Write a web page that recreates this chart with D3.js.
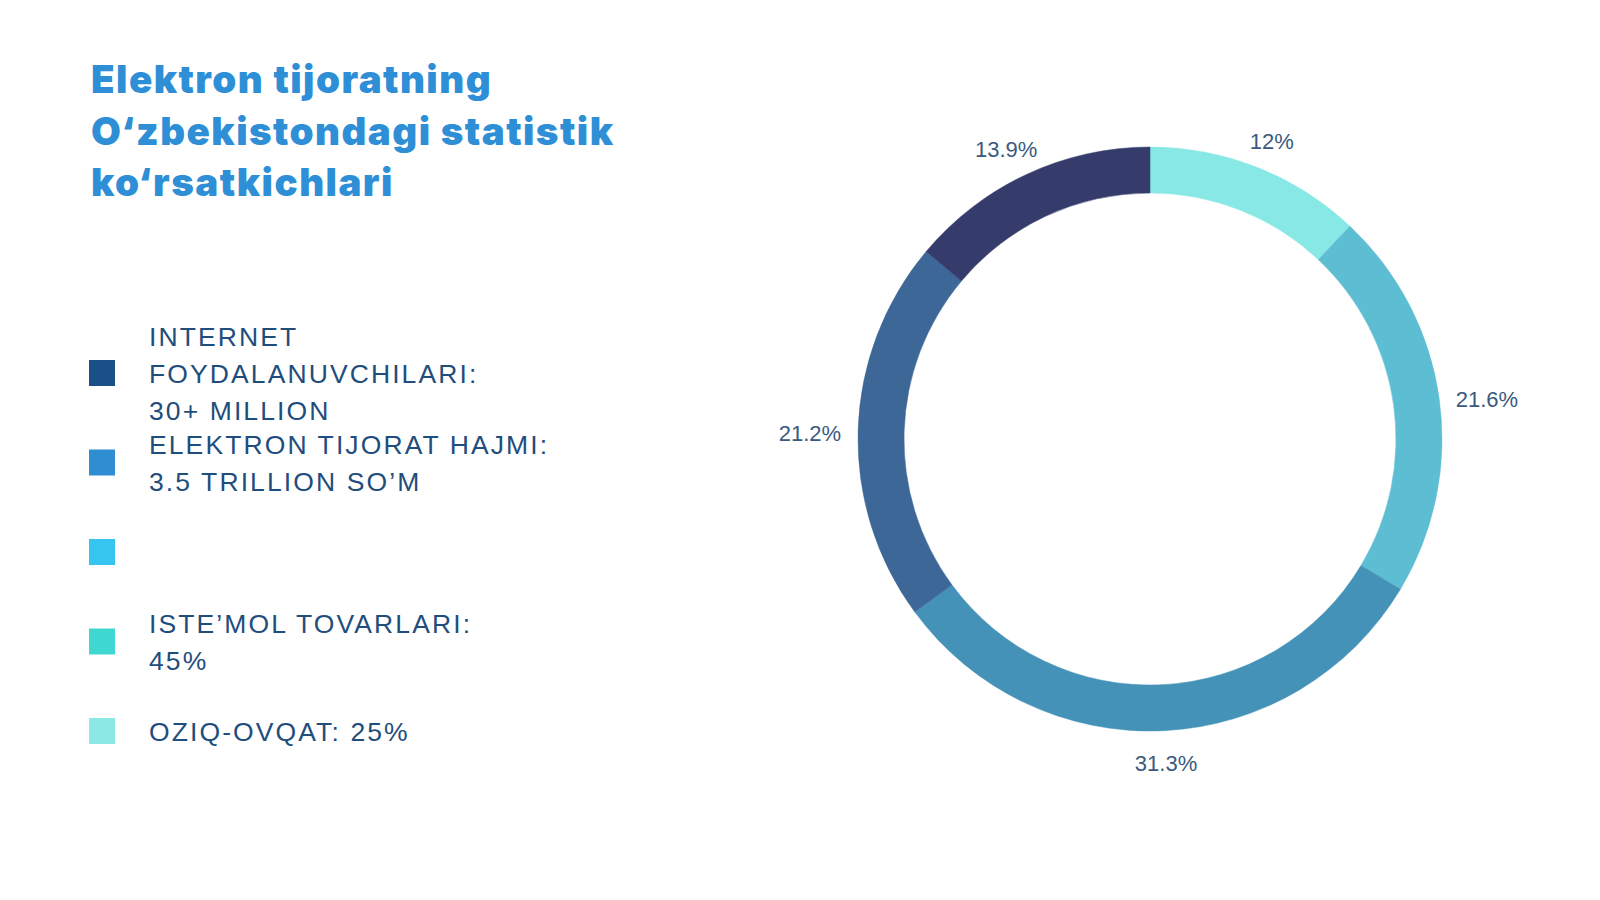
<!DOCTYPE html>
<html>
<head>
<meta charset="utf-8">
<script src="https://cdn.jsdelivr.net/npm/d3@7"></script>
<style>
    html, body { margin: 0; padding: 0; background: #ffffff; }
    svg { display: block; }
</style>
</head>
<body>
<svg id="chart" width="1600" height="900"></svg>
<script>
/***************************************************************
    Data
****************************************************************/
const titleLines = ["Elektron tijoratning", "O\u2018zbekistondagi statistik", "ko\u2018rsatkichlari"];

const legendLabels = [
    ["INTERNET", "FOYDALANUVCHILARI:", "30+ MILLION"],
    ["ELEKTRON TIJORAT HAJMI:", "3.5 TRILLION SO\u2019M"],
    [],
    ["ISTE\u2019MOL TOVARLARI:", "45%"],
    ["OZIQ-OVQAT: 25%"]
];
const legendColors = ["#1b4f87", "#2f8dd2", "#35c5ee", "#3fd8d0", "#8ce8e4"];

const sliceValues = [12, 21.6, 31.3, 21.2, 13.9];
const sliceColors = ["#87e8e5", "#5dbdd3", "#4592b8", "#3d6797", "#353c6c"];

/***************************************************************
    Layout
****************************************************************/
const svg = d3.select("#chart");
const cx = 1150, cy = 439;
const outerR = 292, innerR = 246, labelR = 309;

/***************************************************************
    Title
****************************************************************/
const title = svg.append("g").selectAll("text").data(titleLines).enter().append("text")
    .attr("x", 91)
    .attr("y", (d, i) => 93 + i * 51.5)
    .attr("fill", "#2e8fd6")
    .attr("font-family", "Inter, 'DejaVu Sans', sans-serif")
    .attr("font-weight", 900)
    .attr("font-size", 38.5)
    .text(d => d);

// the original face is a bit wider than Inter, so spread letters to the same line width
const wideLine = title.filter((d, i) => i === 1).node();
const spacing = (522 - wideLine.getComputedTextLength()) / (titleLines[1].length - 1);
title.attr("letter-spacing", spacing + "px");

/***************************************************************
    Legend
****************************************************************/
const legendY = d3.scaleLinear().domain([0, legendLabels.length - 1]).range([373, 731]);

const legend = svg.append("g").selectAll("g").data(legendLabels).enter().append("g")
    .attr("transform", (d, i) => "translate(0," + legendY(i) + ")");

legend.append("rect")
    .attr("x", 89).attr("y", -13)
    .attr("width", 26).attr("height", 26)
    .attr("fill", (d, i) => legendColors[i]);

legend.each(function (lines) {
    const n = lines.length;
    d3.select(this).selectAll("text").data(lines).enter().append("text")
        .attr("x", 149)
        .attr("y", (d, j) => 10 + (j - (n - 1) / 2) * 37)
        .attr("fill", "#1f4d7c")
        .attr("font-family", "'Liberation Sans', Arial, sans-serif")
        .attr("font-size", 26.5)
        .attr("letter-spacing", "2.1px")
        .text(d => d);
});

/***************************************************************
    Donut
****************************************************************/
const pie = d3.pie().sort(null).value(d => d);
const arc = d3.arc().innerRadius(innerR).outerRadius(outerR);
const arcs = pie(sliceValues);

const ring = svg.append("g").attr("transform", "translate(" + cx + "," + cy + ")");

ring.selectAll("path").data(arcs).enter().append("path")
    .attr("d", arc)
    .attr("fill", (d, i) => sliceColors[i])
    .attr("stroke", (d, i) => sliceColors[i])
    .attr("stroke-width", 0.5);

const fmt = v => v + "%";

ring.selectAll("text").data(arcs).enter().append("text")
    .attr("font-family", "'Liberation Sans', Arial, sans-serif")
    .attr("font-size", 22)
    .attr("fill", "#3a5a80")
    .attr("text-anchor", "middle")
    .attr("dominant-baseline", "central")
    .text(d => fmt(d.data))
    .each(function (d) {
        const a = (d.startAngle + d.endAngle) / 2;
        const w = this.getComputedTextLength();
        const h = 22;
        const x = Math.sin(a) * (labelR + w / 2);
        const y = -Math.cos(a) * (labelR + 3 + h / 2) + 2 + 3 * Math.abs(Math.sin(a));
        d3.select(this).attr("x", x).attr("y", y);
    });
</script>
</body>
</html>
